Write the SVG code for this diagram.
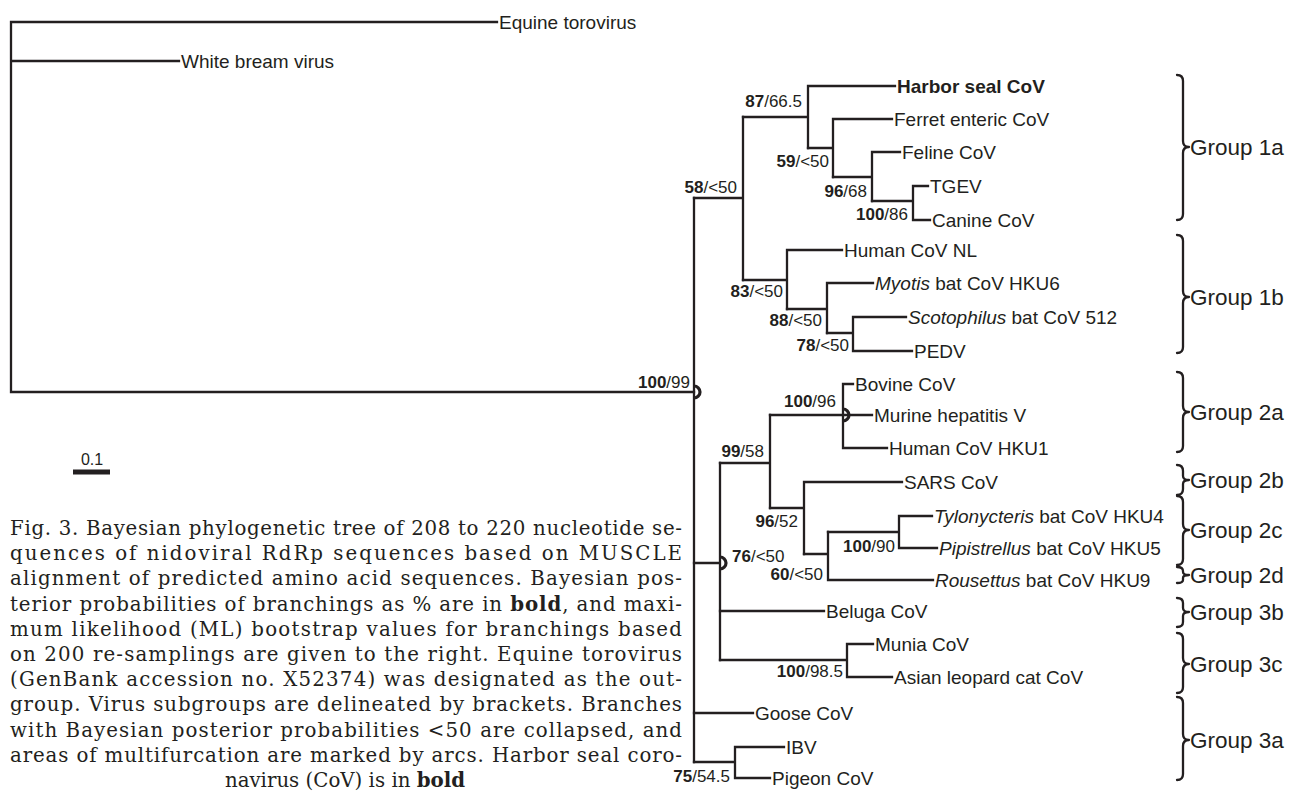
<svg xmlns="http://www.w3.org/2000/svg" width="1298" height="793" viewBox="0 0 1298 793">
<style>
.br{stroke:#231f20;stroke-width:2.3;fill:none;stroke-linecap:square}
.arc{stroke:#231f20;stroke-width:3.2;fill:none}
.bk{stroke:#231f20;stroke-width:2.3;fill:none;stroke-linecap:round;stroke-linejoin:round}
.tx{font-family:"Liberation Sans",Arial,sans-serif;font-size:19px;fill:#231f20}
.lb{font-family:"Liberation Sans",Arial,sans-serif;font-size:17px;fill:#231f20}
.lb tspan.b{font-weight:bold}
.grp{font-family:"Liberation Sans",Arial,sans-serif;font-size:22.5px;fill:#231f20}
.cap{font-family:"DejaVu Serif","Liberation Serif",serif;font-size:19.8px;fill:#231f20}
.i{font-style:italic}
.b{font-weight:bold}
</style>
<rect width="1298" height="793" fill="#ffffff"/>
<g id="connectors">
<path class="br" d="M11,22 V392 M11,22 H497 M11,61 H179 M11,392 H694"/>
<path class="br" d="M694,198 V762"/>
<path class="br" d="M694,198 H743 M743,117 V280"/>
<path class="br" d="M743,117 H808 M808,86 V148 M808,86 H895"/>
<path class="br" d="M808,148 H833 M833,119 V177 M833,119 H892"/>
<path class="br" d="M833,177 H872 M872,152 V201 M872,152 H900"/>
<path class="br" d="M872,201 H913 M913,186 V220 M913,186 H928 M913,220 H930"/>
<path class="br" d="M743,280 H787 M787,250 V309 M787,250 H842"/>
<path class="br" d="M787,309 H827 M827,283 V333 M827,283 H873"/>
<path class="br" d="M827,333 H853 M853,317 V351 M853,317 H906 M853,351 H912"/>
<path class="br" d="M694,563 H720 M720,463 V660"/>
<path class="br" d="M720,463 H770 M770,415 V508"/>
<path class="br" d="M770,415 H843 M843,384 V448 M843,384 H853 M843,415 H872 M843,448 H887"/>
<path class="br" d="M770,508 H804 M804,482 V554 M804,482 H902"/>
<path class="br" d="M804,554 H828 M828,532 V580 M828,580 H933"/>
<path class="br" d="M828,532 H899 M899,516 V548 M899,516 H932 M899,548 H937"/>
<path class="br" d="M720,611 H824"/>
<path class="br" d="M720,660 H847 M847,644 V677 M847,644 H873 M847,677 H892"/>
<path class="br" d="M694,713 H753"/>
<path class="br" d="M694,762 H735 M735,747 V778 M735,747 H784 M735,778 H770"/>
<path class="arc" d="M694,386 A6,6 0 0 1 694,398"/>
<path class="arc" d="M720,557 A6,6 0 0 1 720,569"/>
<path class="arc" d="M843,409 A6,6 0 0 1 843,421"/>
</g>
<g id="outgroup-labels">
<text id="equine" class="tx" x="499" y="28.5">Equine torovirus</text>
<text id="whitebream" class="tx" x="181" y="67.5">White bream virus</text>
</g>
<g id="taxa">
<text id="harbor" class="tx b" x="897" y="92.5">Harbor seal CoV</text>
<text id="ferret" class="tx" x="894" y="125.5">Ferret enteric CoV</text>
<text id="feline" class="tx" x="902" y="158.5">Feline CoV</text>
<text id="tgev" class="tx" x="930" y="192.5">TGEV</text>
<text id="canine" class="tx" x="932" y="226.5">Canine CoV</text>
<text id="hcovnl" class="tx" x="844" y="256.5">Human CoV NL</text>
<text id="myotis" class="tx" x="875" y="289.5"><tspan class="i">Myotis</tspan> bat CoV HKU6</text>
<text id="scoto" class="tx" x="908" y="323.5"><tspan class="i">Scotophilus</tspan> bat CoV 512</text>
<text id="pedv" class="tx" x="914" y="357.5">PEDV</text>
<text id="bovine" class="tx" x="855" y="390.5">Bovine CoV</text>
<text id="murine" class="tx" x="874" y="421.5">Murine hepatitis V</text>
<text id="hku1" class="tx" x="889" y="454.5">Human CoV HKU1</text>
<text id="sars" class="tx" x="904" y="488.5">SARS CoV</text>
<text id="tylo" class="tx" x="934" y="522.5"><tspan class="i">Tylonycteris</tspan> bat CoV HKU4</text>
<text id="pipi" class="tx" x="939" y="554.5"><tspan class="i">Pipistrellus</tspan> bat CoV HKU5</text>
<text id="rous" class="tx" x="935" y="586.5"><tspan class="i">Rousettus</tspan> bat CoV HKU9</text>
<text id="beluga" class="tx" x="826" y="617.5">Beluga CoV</text>
<text id="munia" class="tx" x="875" y="650.5">Munia CoV</text>
<text id="leopard" class="tx" x="894" y="683.5">Asian leopard cat CoV</text>
<text id="goose" class="tx" x="755" y="719.5">Goose CoV</text>
<text id="ibv" class="tx" x="786" y="753.5">IBV</text>
<text id="pigeon" class="tx" x="772" y="784.5">Pigeon CoV</text>
</g>
<g id="support">
<text class="lb" x="690" y="388" text-anchor="end"><tspan class="b">100</tspan>/99</text>
<text class="lb" x="737" y="193" text-anchor="end"><tspan class="b">58</tspan>/&lt;50</text>
<text class="lb" x="802" y="107" text-anchor="end"><tspan class="b">87</tspan>/66.5</text>
<text class="lb" x="829" y="167" text-anchor="end"><tspan class="b">59</tspan>/&lt;50</text>
<text class="lb" x="867" y="197" text-anchor="end"><tspan class="b">96</tspan>/68</text>
<text class="lb" x="908" y="220" text-anchor="end"><tspan class="b">100</tspan>/86</text>
<text class="lb" x="783" y="297" text-anchor="end"><tspan class="b">83</tspan>/&lt;50</text>
<text class="lb" x="822" y="326" text-anchor="end"><tspan class="b">88</tspan>/&lt;50</text>
<text class="lb" x="849" y="351" text-anchor="end"><tspan class="b">78</tspan>/&lt;50</text>
<text class="lb" x="836" y="407" text-anchor="end"><tspan class="b">100</tspan>/96</text>
<text class="lb" x="764" y="457" text-anchor="end"><tspan class="b">99</tspan>/58</text>
<text class="lb" x="798" y="527" text-anchor="end"><tspan class="b">96</tspan>/52</text>
<text class="lb" x="732" y="562"><tspan class="b">76</tspan>/&lt;50</text>
<text class="lb" x="823" y="580" text-anchor="end"><tspan class="b">60</tspan>/&lt;50</text>
<text class="lb" x="895" y="552" text-anchor="end"><tspan class="b">100</tspan>/90</text>
<text class="lb" x="843" y="677" text-anchor="end"><tspan class="b">100</tspan>/98.5</text>
<text class="lb" x="730" y="782" text-anchor="end"><tspan class="b">75</tspan>/54.5</text>
</g>
<g id="groups">
<path class="bk" d="M1177,75 C1181,75 1183,77 1183,81 L1183,141 C1183,145 1185,147 1189,147 C1185,147 1183,149 1183,153 L1183,214 C1183,218 1181,220 1177,220"/>
<text class="grp" x="1190" y="155">Group 1a</text>
<path class="bk" d="M1177,235 C1181,235 1183,237 1183,241 L1183,291 C1183,295 1185,297 1189,297 C1185,297 1183,299 1183,303 L1183,347 C1183,351 1181,353 1177,353"/>
<text class="grp" x="1190" y="305">Group 1b</text>
<path class="bk" d="M1177,372 C1181,372 1183,374 1183,378 L1183,406 C1183,410 1185,412 1189,412 C1185,412 1183,414 1183,418 L1183,446 C1183,450 1181,452 1177,452"/>
<text class="grp" x="1190" y="420">Group 2a</text>
<path class="bk" d="M1177,465 C1181,465 1183,467 1183,471 L1183,476 C1183,479 1185,480 1189,480 C1185,480 1183,481 1183,484 L1183,489 C1183,493 1181,495 1177,495"/>
<text class="grp" x="1190" y="488">Group 2b</text>
<path class="bk" d="M1177,496 C1181,496 1183,498 1183,502 L1183,524 C1183,528 1185,530 1189,530 C1185,530 1183,532 1183,536 L1183,559 C1183,563 1181,565 1177,565"/>
<text class="grp" x="1190" y="538">Group 2c</text>
<path class="bk" d="M1177,567 C1181,567 1183,568 1183,571 L1183,572 C1183,574 1185,575 1189,575 C1185,575 1183,576 1183,578 L1183,580 C1183,582 1181,583 1177,583"/>
<text class="grp" x="1190" y="583">Group 2d</text>
<path class="bk" d="M1177,598 C1181,598 1183,600 1183,603 L1183,608 C1183,611 1185,612 1189,612 C1185,612 1183,613 1183,616 L1183,622 C1183,625 1181,627 1177,627"/>
<text class="grp" x="1190" y="620">Group 3b</text>
<path class="bk" d="M1177,633 C1181,633 1183,635 1183,639 L1183,658 C1183,662 1185,664 1189,664 C1185,664 1183,666 1183,670 L1183,687 C1183,691 1181,693 1177,693"/>
<text class="grp" x="1190" y="672">Group 3c</text>
<path class="bk" d="M1177,697 C1181,697 1183,699 1183,703 L1183,734 C1183,738 1185,740 1189,740 C1185,740 1183,742 1183,746 L1183,774 C1183,778 1181,780 1177,780"/>
<text class="grp" x="1190" y="748">Group 3a</text>
</g>
<g id="scale">
<text class="lb" x="92" y="465" text-anchor="middle" style="font-size:16px">0.1</text>
<rect x="73" y="469.5" width="37" height="5" fill="#231f20"/>
</g>
<g id="caption">
<text class="cap" x="10" y="535" textLength="672" lengthAdjust="spacing">Fig. 3. Bayesian phylogenetic tree of 208 to 220 nucleotide se-</text>
<text class="cap" x="10" y="560.2" textLength="672" lengthAdjust="spacing">quences of nidoviral RdRp sequences based on MUSCLE</text>
<text class="cap" x="10" y="585.4" textLength="672" lengthAdjust="spacing">alignment of predicted amino acid sequences. Bayesian pos-</text>
<text class="cap" x="10" y="610.6" textLength="672" lengthAdjust="spacing">terior probabilities of branchings as % are in <tspan class="b">bold</tspan>, and maxi-</text>
<text class="cap" x="10" y="635.8" textLength="672" lengthAdjust="spacing">mum likelihood (ML) bootstrap values for branchings based</text>
<text class="cap" x="10" y="661" textLength="672" lengthAdjust="spacing">on 200 re-samplings are given to the right. Equine torovirus</text>
<text class="cap" x="10" y="686.2" textLength="672" lengthAdjust="spacing">(GenBank accession no. X52374) was designated as the out-</text>
<text class="cap" x="10" y="711.4" textLength="672" lengthAdjust="spacing">group. Virus subgroups are delineated by brackets. Branches</text>
<text class="cap" x="10" y="736.6" textLength="672" lengthAdjust="spacing">with Bayesian posterior probabilities &lt;50 are collapsed, and</text>
<text class="cap" x="10" y="761.8" textLength="672" lengthAdjust="spacing">areas of multifurcation are marked by arcs. Harbor seal coro-</text>
<text class="cap" x="345" y="787" text-anchor="middle">navirus (CoV) is in <tspan class="b">bold</tspan></text>
</g>
</svg>
